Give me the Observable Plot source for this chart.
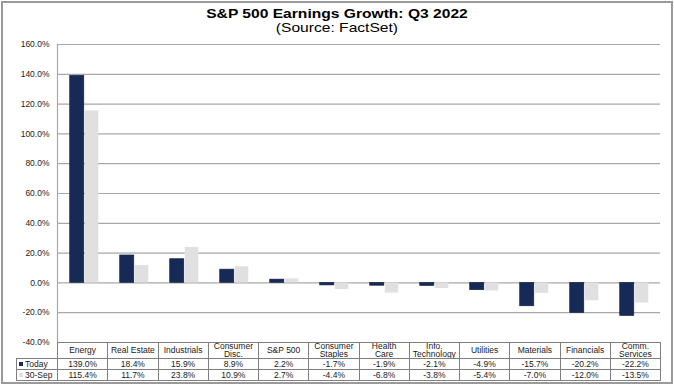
<!DOCTYPE html>
<html>
<head>
<meta charset="utf-8">
<script src="https://cdn.jsdelivr.net/npm/d3@7"></script>
<script src="https://cdn.jsdelivr.net/npm/@observablehq/plot@0.6"></script>
<style>
  html, body { margin: 0; padding: 0; background: #fff; }
  #wrap { position: relative; width: 674px; height: 386px; font-family: "Liberation Sans", Arial, sans-serif; overflow: hidden; }
  #border { position: absolute; left: 1px; top: 1px; width: 668px; height: 379px; border: 2px solid #9a9a9a; }
  .title { position: absolute; left: 0; width: 674px; text-align: center; color: #000; }
  .title span { display: inline-block; transform: scaleX(1.2); transform-origin: center; }
  #t1 { top: 6px; font-size: 13px; font-weight: bold; line-height: 15px; }
  #t2 { top: 20px; font-size: 13px; line-height: 15px; }
  #chart { position: absolute; left: 0; top: 0; }
  #tbl { position: absolute; left: 16px; top: 342px; border-collapse: collapse; table-layout: fixed; width: 644px; font-size: 8.5px; color: #1a1a1a; }
  #tbl td { border: 1px solid #7f7f7f; text-align: center; padding: 0; overflow: hidden; white-space: pre-line; }
  #tbl tr.head td { height: 14px; line-height: 7.5px; }
  #tbl tr.row td { height: 10px; line-height: 10px; }
  #tbl td.blank { border-top: none; border-left: none; border-bottom-color: #7f7f7f; }
  #tbl td.key { text-align: left; padding-left: 2px; }
  .sw { display: inline-block; width: 4px; height: 4px; margin-right: 2px; vertical-align: 1px; }
</style>
</head>
<body>
<div id="wrap">
  <div id="border"></div>
  <div class="title" id="t1"><span>S&amp;P 500 Earnings Growth: Q3 2022</span></div>
  <div class="title" id="t2"><span>(Source: FactSet)</span></div>
  <div id="chart"></div>
  <table id="tbl"></table>
</div>
<script>
const categories = ["Energy", "Real Estate", "Industrials", "Consumer\nDisc.", "S&P 500", "Consumer\nStaples", "Health\nCare", "Info.\nTechnology", "Utilities", "Materials", "Financials", "Comm.\nServices"];
const seriesNames = ["Today", "30-Sep"];
const today = [139.0, 18.4, 15.9, 8.9, 2.2, -1.7, -1.9, -2.1, -4.9, -15.7, -20.2, -22.2];
const sep30 = [115.4, 11.7, 23.8, 10.9, 2.7, -4.4, -6.8, -3.8, -5.4, -7.0, -12.0, -13.5];
const yTicks = [-40, -20, 0, 20, 40, 60, 80, 100, 120, 140, 160];
const colors = ["#172a56", "#e0e0e0"];

const rows = categories.map((c, i) => ({cat: c, today: today[i], sep: sep30[i]}));

const plot = Plot.plot({
  width: 674,
  height: 352,
  marginTop: 44,
  marginBottom: 10,
  marginLeft: 57,
  marginRight: 14,
  style: {fontFamily: "'Liberation Sans', Arial, sans-serif", fontSize: "8.5px", color: "#222", background: "transparent"},
  x: {domain: categories, padding: 0, axis: null},
  y: {domain: [-40, 160], axis: null},
  marks: [
    Plot.gridY(yTicks, {stroke: "#a8a8a8", strokeOpacity: 1, strokeWidth: 1.2}),
    Plot.frame({anchor: "left", stroke: "#a8a8a8", strokeWidth: 1.2}),
    Plot.barY(rows, {x: "cat", y: "today", fill: colors[0], stroke: "#0f1e44", strokeWidth: 0.6, insetLeft: 10.7, insetRight: 25.2}),
    Plot.barY(rows, {x: "cat", y: "sep", fill: colors[1], insetLeft: 25.8, insetRight: 10.7}),
    Plot.axisY(yTicks, {tickSize: 0, tickPadding: 8, tickFormat: d => d.toFixed(1) + "%", fill: "#222"})
  ]
});
document.getElementById("chart").appendChild(plot);

// data table
const tbl = d3.select("#tbl");
const cg = tbl.append("colgroup");
cg.append("col").style("width", "41px");
categories.forEach(() => cg.append("col").style("width", "50.25px"));
const head = tbl.append("tr").attr("class", "head");
head.append("td").attr("class", "blank");
categories.forEach(c => head.append("td").text(c));
[today, sep30].forEach((vals, s) => {
  const tr = tbl.append("tr").attr("class", "row");
  const k = tr.append("td").attr("class", "key");
  k.append("span").attr("class", "sw").style("background", colors[s]);
  k.append("span").text(seriesNames[s]);
  vals.forEach(v => tr.append("td").text(v.toFixed(1) + "%"));
});
</script>
</body>
</html>
